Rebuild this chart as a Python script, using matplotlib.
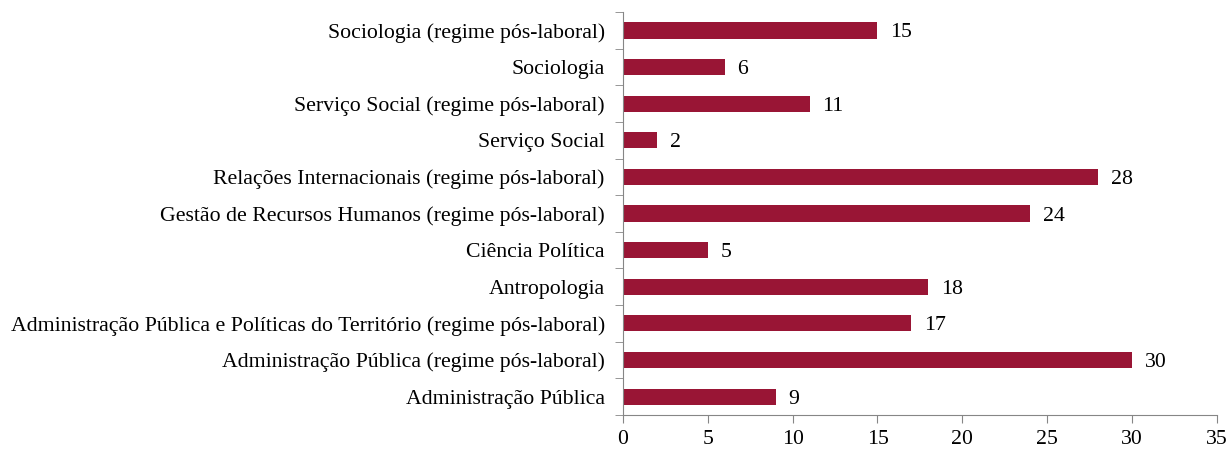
#!/usr/bin/env python3
"""Horizontal bar chart of counts per degree programme."""

import matplotlib

matplotlib.use("Agg")
import matplotlib.pyplot as plt
import numpy as np
from matplotlib.ticker import FixedLocator, MultipleLocator

courses = [
    "Administração Pública",
    "Administração Pública (regime pós-laboral)",
    "Administração Pública e Políticas do Território (regime pós-laboral)",
    "Antropologia",
    "Ciência Política",
    "Gestão de Recursos Humanos (regime pós-laboral)",
    "Relações Internacionais (regime pós-laboral)",
    "Serviço Social",
    "Serviço Social (regime pós-laboral)",
    "Sociologia",
    "Sociologia (regime pós-laboral)",
]
counts = [9, 30, 17, 18, 5, 24, 28, 2, 11, 6, 15]

BAR_COLOR = "#991535"
AXIS_COLOR = "#868686"

plt.rcParams["font.family"] = ["Liberation Serif", "DejaVu Serif"]
plt.rcParams["font.size"] = 15.7

fig = plt.figure(figsize=(12.31, 4.5), dpi=100)
ax = fig.add_axes([0.506, 0.078, 0.4826, 0.895])

y = np.arange(len(courses))
ax.barh(y, counts, height=0.44, color=BAR_COLOR)
for yi, v in zip(y, counts):
    ax.text(v + 0.75, yi, str(v), va="center_baseline", ha="left")

ax.set_xlim(0, 35)
ax.set_ylim(-0.5, len(courses) - 0.5)
ax.xaxis.set_major_locator(MultipleLocator(5))
ax.set_yticks(y)
ax.set_yticklabels(courses)
ax.yaxis.set_minor_locator(FixedLocator(np.arange(-0.5, len(courses), 1.0)))
ax.tick_params(axis="y", which="major", length=0, pad=13)
ax.tick_params(axis="y", which="minor", length=6, color=AXIS_COLOR, direction="out")
ax.tick_params(axis="x", length=6, color=AXIS_COLOR, direction="out", pad=5)

for side in ("top", "right"):
    ax.spines[side].set_visible(False)
for side in ("left", "bottom"):
    ax.spines[side].set_color(AXIS_COLOR)

fig.savefig("out.png", dpi=100)
